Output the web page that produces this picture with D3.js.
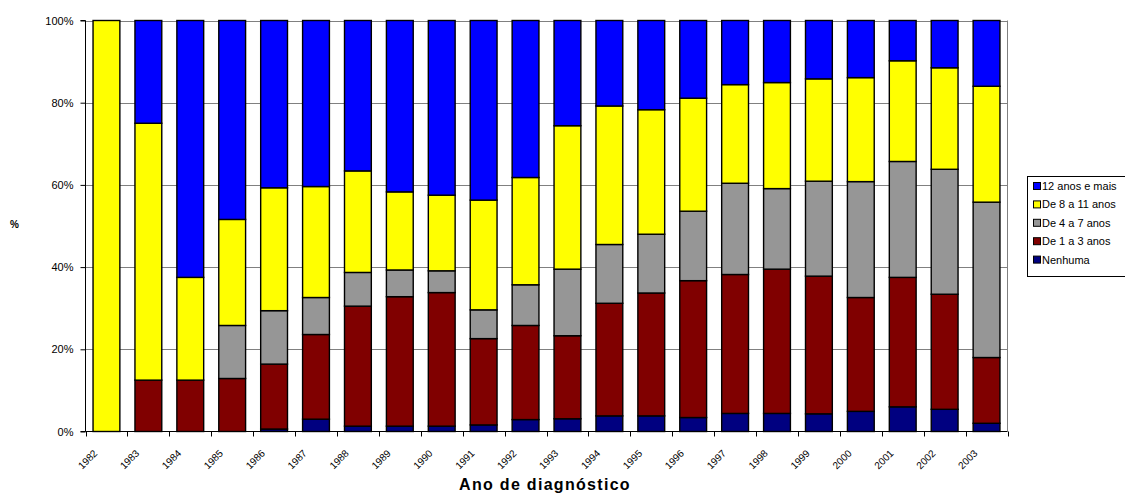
<!DOCTYPE html>
<html>
<head>
<meta charset="utf-8">
<script src="https://cdn.jsdelivr.net/npm/d3@7"></script>
<style>
  html, body { margin: 0; padding: 0; background: #fff; }
  svg { display: block; font-family: "Liberation Sans", Arial, sans-serif; }
</style>
</head>
<body>
<svg id="chart" width="1125" height="495"></svg>
<script>
// Years of diagnosis
const years = ["1982","1983","1984","1985","1986","1987","1988","1989","1990","1991","1992",
               "1993","1994","1995","1996","1997","1998","1999","2000","2001","2002","2003"];

// Schooling groups, bottom of the stack to top
const seriesNames = ["Nenhuma", "De 1 a 3 anos", "De 4 a 7 anos", "De 8 a 11 anos", "12 anos e mais"];

// Share of cases (%) per year for each group
const nenhuma   = [0, 0, 0, 0, 0.6, 3.0, 1.3, 1.3, 1.3, 1.6, 2.9, 3.1, 3.8, 3.8, 3.4, 4.4, 4.4, 4.3, 4.9, 6.0, 5.4, 2.0];
const de1a3     = [0, 12.5, 12.5, 12.9, 15.8, 20.6, 29.2, 31.5, 32.5, 21.0, 22.9, 20.2, 27.4, 29.9, 33.3, 33.8, 35.1, 33.5, 27.7, 31.5, 28.0, 16.0];
const de4a7     = [0, 0, 0, 12.9, 13.0, 9.0, 8.2, 6.5, 5.3, 7.0, 9.9, 16.2, 14.3, 14.3, 16.9, 22.2, 19.6, 23.1, 28.2, 28.2, 30.4, 37.8];
const de8a11    = [100, 62.5, 25.0, 25.8, 29.9, 27.0, 24.7, 19.0, 18.4, 26.7, 26.1, 34.9, 33.7, 30.3, 27.5, 24.0, 25.8, 24.9, 25.3, 24.5, 24.7, 28.2];
const mais12    = [0, 25.0, 62.5, 48.4, 40.7, 40.4, 36.6, 41.7, 42.5, 43.7, 38.2, 25.6, 20.8, 21.7, 18.9, 15.6, 15.1, 14.2, 13.9, 9.8, 11.5, 16.0];

// Y axis tick values (fractions)
const yTicks = [0, 0.2, 0.4, 0.6, 0.8, 1.0];

const colors = {
  "Nenhuma": "#000080",
  "De 1 a 3 anos": "#800000",
  "De 4 a 7 anos": "#969696",
  "De 8 a 11 anos": "#FFFF00",
  "12 anos e mais": "#0000FF"
};

// Rows for the stack layout
const columns = [nenhuma, de1a3, de4a7, de8a11, mais12];
const rows = years.map((yr, i) => {
  const r = { year: yr };
  seriesNames.forEach((s, k) => { r[s] = columns[k][i]; });
  return r;
});

const svg = d3.select("#chart");
const plotLeft = 85.5, plotRight = 1007.5, plotTop = 20.5, plotBottom = 431.5;

const x = d3.scaleBand().domain(years).range([plotLeft, plotRight]).paddingInner(0.36).paddingOuter(0.18);
const y = d3.scaleLinear().domain([0, 1]).range([plotBottom, plotTop]);

// Stacked as proportions of each year's total
const stack = d3.stack().keys(seriesNames).offset(d3.stackOffsetExpand);
const layers = stack(rows);

// Horizontal gridlines
svg.append("g").selectAll("line").data(yTicks.filter(t => t > 0)).join("line")
  .attr("x1", plotLeft).attr("x2", plotRight)
  .attr("y1", d => Math.round(y(d)) + 0.5).attr("y2", d => Math.round(y(d)) + 0.5)
  .attr("stroke", "#808080").attr("stroke-width", 1);

// Plot area right border
svg.append("line").attr("x1", plotRight).attr("x2", plotRight).attr("y1", plotTop).attr("y2", plotBottom)
  .attr("stroke", "#808080").attr("stroke-width", 1);

// Bars
svg.append("g").selectAll("g").data(layers).join("g")
  .attr("fill", d => colors[d.key])
  .selectAll("rect").data(d => d.filter(p => p[1] - p[0] > 0)).join("rect")
  .attr("x", d => x(d.data.year))
  .attr("width", x.bandwidth())
  .attr("y", d => y(d[1]))
  .attr("height", d => y(d[0]) - y(d[1]))
  .attr("stroke", "#000").attr("stroke-width", 1.4);

// Y axis
const yAxis = d3.axisLeft(y).tickValues(yTicks).tickFormat(d3.format(".0%")).tickSize(5).tickPadding(7);
const gy = svg.append("g").attr("transform", `translate(${plotLeft},0)`).call(yAxis);
gy.select(".domain").attr("stroke", "#000").attr("d", `M-5,${plotTop}H0V${plotBottom}H-5`);
gy.selectAll(".tick line").attr("stroke", "#000");
gy.selectAll(".tick text").attr("font-size", 11).attr("fill", "#000")
  .attr("font-family", "'Liberation Sans', Arial, sans-serif");

// X axis: ticks sit on the category boundaries
const step = x.step();
const boundaries = d3.range(years.length + 1).map(i => x(years[0]) - step * x.paddingOuter() + i * step);
const gx = svg.append("g");
gx.append("line").attr("x1", plotLeft).attr("x2", plotRight).attr("y1", plotBottom).attr("y2", plotBottom)
  .attr("stroke", "#000").attr("stroke-width", 1);
gx.selectAll("line.tick").data(boundaries).join("line").attr("class", "tick")
  .attr("x1", d => Math.round(d) + 0.5).attr("x2", d => Math.round(d) + 0.5)
  .attr("y1", plotBottom).attr("y2", plotBottom + 5)
  .attr("stroke", "#000");
gx.selectAll("text").data(years).join("text")
  .attr("transform", (d, i) => `translate(${boundaries[i] + 12.5},${plotBottom + 22.5}) rotate(-45)`)
  .attr("text-anchor", "end")
  .attr("font-size", 10)
  .attr("fill", "#000")
  .text(d => d);

// Axis titles
svg.append("text").attr("x", 545).attr("y", 490).attr("text-anchor", "middle")
  .attr("font-size", 16).attr("font-weight", "bold").attr("letter-spacing", 1.3)
  .text("Ano de diagnóstico");
svg.append("text").attr("x", 14.5).attr("y", 228).attr("text-anchor", "middle")
  .attr("font-size", 10).attr("font-weight", "bold").text("%");

// Legend (top of stack listed first)
const legend = svg.append("g").attr("transform", "translate(1027,176)");
legend.append("rect").attr("x", 0.5).attr("y", 0.5).attr("width", 120).attr("height", 100)
  .attr("fill", "#fff").attr("stroke", "#000").attr("stroke-width", 1);
const items = seriesNames.slice().reverse();
const li = legend.selectAll("g.item").data(items).join("g").attr("class", "item")
  .attr("transform", (d, i) => `translate(0,${10 + i * 18.4})`);
li.append("rect").attr("x", 6.5).attr("y", -3.5).attr("width", 7).attr("height", 7)
  .attr("fill", d => colors[d]).attr("stroke", "#000").attr("stroke-width", 1);
li.append("text").attr("x", 15).attr("y", 4).attr("font-size", 11).attr("fill", "#000").text(d => d);
</script>
</body>
</html>
